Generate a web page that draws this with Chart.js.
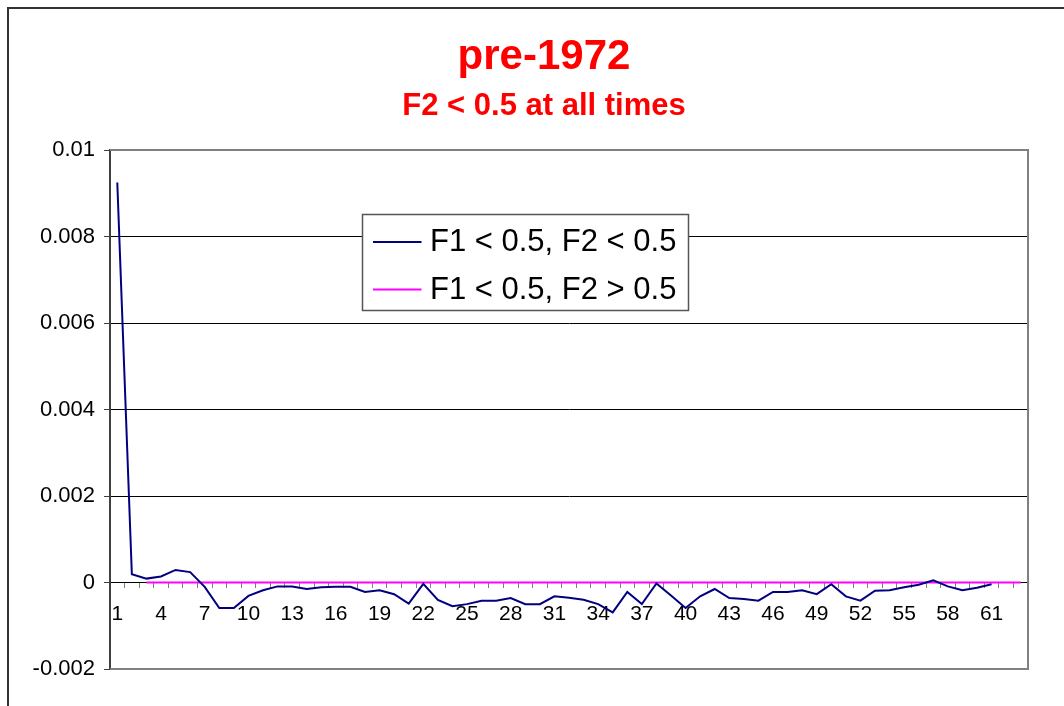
<!DOCTYPE html>
<html>
<head>
<meta charset="utf-8">
<script src="https://cdn.jsdelivr.net/npm/chart.js@4.4.1/dist/chart.umd.min.js"></script>
<style>
  html, body { margin: 0; padding: 0; background: #fff; overflow: hidden; }
  #wrap { position: relative; width: 1064px; height: 706px; }
  #frame { position: absolute; left: 7px; top: 7px; width: 1200px; height: 800px;
           border-left: 2px solid #333; border-top: 2px solid #333; }
  #chart { position: absolute; left: 0; top: 0; }
</style>
</head>
<body>
<div id="wrap">
  <div id="frame"></div>
  <canvas id="chart" width="1064" height="706"></canvas>
</div>
<script>
var categories = [1, 2, 3, 4, 5, 6, 7, 8, 9, 10, 11, 12, 13, 14, 15, 16, 17, 18, 19, 20,
    21, 22, 23, 24, 25, 26, 27, 28, 29, 30, 31, 32, 33, 34, 35, 36, 37, 38, 39, 40,
    41, 42, 43, 44, 45, 46, 47, 48, 49, 50, 51, 52, 53, 54, 55, 56, 57, 58, 59, 60,
    61, 62, 63];

// F1 < 0.5, F2 < 0.5
var series_low = [0.00925, 0.00019, 0.00009, 0.00014, 0.00029, 0.00024, -0.0001, -0.00059, -0.00059, -0.00031,
    -0.00018, -0.00009, -0.00009, -0.00015, -0.00011, -0.0001, -0.0001, -0.00022, -0.00018, -0.00027,
    -0.00049, -0.00003, -0.0004, -0.00055, -0.0005, -0.00042, -0.00042, -0.00036, -0.0005, -0.0005,
    -0.00032, -0.00035, -0.0004, -0.0005, -0.00069, -0.00022, -0.0005, -0.00002, -0.0003, -0.00059,
    -0.00032, -0.00015, -0.00036, -0.00038, -0.00042, -0.00022, -0.00022, -0.00018, -0.00027, -0.00004,
    -0.00032, -0.00042, -0.00019, -0.00018, -0.00011, -0.00005, 0.00005, -0.00009, -0.00018, -0.00012,
    -0.00004, null, null];

// F1 < 0.5, F2 > 0.5
var series_high = [null, null, 0, 0, 0, 0, 0, 0, 0, 0,
    0, 0, 0, 0, 0, 0, 0, 0, 0, 0,
    0, 0, 0, 0, 0, 0, 0, 0, 0, 0,
    0, 0, 0, 0, 0, 0, 0, 0, 0, 0,
    0, 0, 0, 0, 0, 0, 0, 0, 0, 0,
    0, 0, 0, 0, 0, 0, 0, 0, 0, 0,
    0, 0, 0];

var series_names = ["F1 < 0.5, F2 < 0.5", "F1 < 0.5, F2 > 0.5"];
var series_colors = ["#000080", "#FF00FF"];

var y_min = -0.002;
var y_max = 0.01;
var y_step = 0.002;

Chart.defaults.font.family = '"Liberation Sans", Arial, sans-serif';
Chart.defaults.color = "#000";

// let the value labels use the space left of the axis box
var widenY = {
    id: "widenY",
    afterLayout: function(chart) {
        chart.scales.y.left = 0;
    }
};

// gray frame round the plot area (left side is the value axis)
var plotFrame = {
    id: "plotFrame",
    beforeDatasetsDraw: function(chart) {
        var a = chart.chartArea;
        var ctx = chart.ctx;
        ctx.save();
        ctx.strokeStyle = "#808080";
        ctx.lineWidth = 2;
        ctx.beginPath();
        ctx.moveTo(a.left, a.top);
        ctx.lineTo(a.right, a.top);
        ctx.lineTo(a.right, a.bottom);
        ctx.lineTo(a.left, a.bottom);
        ctx.stroke();
        ctx.restore();
    }
};

// boxed legend sitting inside the plot area
var boxLegend = {
    id: "boxLegend",
    afterDraw: function(chart) {
        var a = chart.chartArea;
        var ctx = chart.ctx;
        var x0 = a.left + 252.5, y0 = a.top + 64.5, w = 326, h = 96;
        ctx.save();
        ctx.fillStyle = "#fff";
        ctx.fillRect(x0, y0, w, h);
        ctx.strokeStyle = "#555";
        ctx.lineWidth = 1.5;
        ctx.strokeRect(x0, y0, w, h);
        ctx.font = '31px "Liberation Sans", Arial, sans-serif';
        ctx.textBaseline = "alphabetic";
        chart.data.datasets.forEach(function(ds, i) {
            var cy = y0 + 27.5 + i * 47.5;
            ctx.strokeStyle = ds.borderColor;
            ctx.lineWidth = 2;
            ctx.beginPath();
            ctx.moveTo(x0 + 10.5, cy);
            ctx.lineTo(x0 + 59, cy);
            ctx.stroke();
            ctx.fillStyle = "#000";
            ctx.fillText(ds.label, x0 + 67.5, cy + 9.2);
        });
        ctx.restore();
    }
};

const ctx = document.getElementById("chart").getContext("2d");
const myChart = new Chart(ctx, {
    type: "line",
    data: {
        labels: categories,
        datasets: [{
            label: series_names[0],
            data: series_low,
            borderColor: series_colors[0],
            backgroundColor: series_colors[0],
            borderWidth: 2,
            pointRadius: 0,
            tension: 0,
        }, {
            label: series_names[1],
            data: series_high,
            borderColor: series_colors[1],
            backgroundColor: series_colors[1],
            borderWidth: 2,
            pointRadius: 0,
            tension: 0,
        }],
    },
    options: {
        responsive: false,
        animation: false,
        devicePixelRatio: 1,
        layout: {
            padding: { top: 0, left: 60, right: 36, bottom: 37 },
        },
        plugins: {
            legend: { display: false },
            tooltip: { enabled: false },
            title: {
                display: true,
                text: "pre-1972",
                color: "#FF0000",
                font: { size: 42, weight: "bold", lineHeight: 1.2 },
                padding: { top: 32.5, bottom: 0 },
            },
            subtitle: {
                display: true,
                text: "F2 < 0.5 at all times",
                color: "#FF0000",
                font: { size: 31, weight: "bold", lineHeight: 1.2 },
                padding: { top: 4.5, bottom: 25.4 },
            },
        },
        scales: {
            x: {
                type: "category",
                position: { y: 0 },
                offset: true,
                afterFit: function(s) { s.height = 0; },
                grid: {
                    offset: true,
                    drawOnChartArea: false,
                    drawTicks: true,
                    tickLength: 5,
                    tickColor: "#808080",
                },
                border: { color: "#000", width: 1 },
                ticks: {
                    autoSkip: false,
                    maxRotation: 0,
                    padding: 14,
                    font: { size: 21 },
                    callback: function(v, i) {
                        return i % 3 === 0 ? String(categories[i]) : "";
                    },
                },
            },
            y: {
                min: y_min,
                max: y_max,
                afterFit: function(s) { s.width = 50; },
                grid: {
                    color: function(c) {
                        var v = c.tick ? c.tick.value : 0;
                        if (Math.abs(v - y_max) < 1e-9 || Math.abs(v - y_min) < 1e-9) return "rgba(0,0,0,0)";
                        return "#000";
                    },
                    lineWidth: 1,
                    tickLength: 6,
                    tickColor: "#404040",
                },
                border: { color: "#404040", width: 2 },
                ticks: {
                    stepSize: y_step,
                    padding: 9,
                    font: { size: 22 },
                    callback: function(v) {
                        return String(Number(v.toFixed(4)));
                    },
                },
            },
        },
    },
    plugins: [widenY, plotFrame, boxLegend],
});
</script>
</body>
</html>
